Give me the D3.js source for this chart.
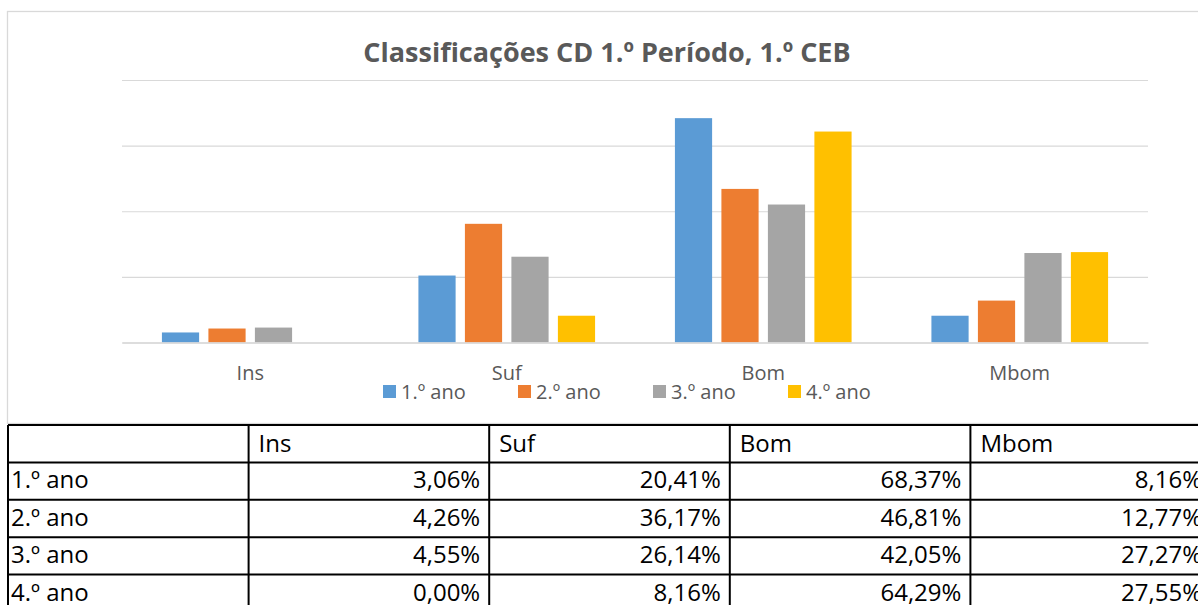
<!DOCTYPE html>
<html>
<head>
<meta charset="utf-8">
<script src="https://cdn.jsdelivr.net/npm/d3@7/dist/d3.min.js"></script>
<style>
    body { margin: 0; background: #fff; }
    text { font-family: "Open Sans", sans-serif; }
</style>
</head>
<body>
<svg id="chart" width="1198" height="605"></svg>
<script>
// values in percent
const categories = ["Ins", "Suf", "Bom", "Mbom"];
const series = ["1.º ano", "2.º ano", "3.º ano", "4.º ano"];
const ano1 = [3.06, 20.41, 68.37, 8.16];
const ano2 = [4.26, 36.17, 46.81, 12.77];
const ano3 = [4.55, 26.14, 42.05, 27.27];
const ano4 = [0.00, 8.16, 64.29, 27.55];
const values = [ano1, ano2, ano3, ano4];
const colors = ["#5b9bd5", "#ed7d31", "#a5a5a5", "#ffc000"];
const title = "Classificações CD 1.º Período, 1.º CEB";

const svg = d3.select("#chart");
const grey = "#595959";

// chart frame
svg.append("rect")
    .attr("x", 7.5).attr("y", 11.5)
    .attr("width", 1200).attr("height", 412)
    .style("fill", "white")
    .style("stroke", "#d9d9d9")
    .style("stroke-width", 1.3);

svg.append("text")
    .attr("x", 607).attr("y", 62)
    .attr("text-anchor", "middle")
    .style("font-size", "27px")
    .style("font-weight", "bold")
    .style("fill", grey)
    .text(title);

let x0 = d3.scaleBand()
    .domain(categories)
    .range([122, 1148])
    .paddingInner(0.275)
    .paddingOuter(0.1375);

let x1 = d3.scaleBand()
    .domain(series)
    .range([0, x0.bandwidth()])
    .paddingInner(0.2)
    .paddingOuter(0.1);

let y = d3.scaleLinear()
    .domain([0, 80])
    .range([342.5, 80]);

// gridlines
let grid = svg.append("g")
    .attr("transform", "translate(122,0)")
    .call(d3.axisLeft(y).ticks(4).tickSize(-1026).tickFormat(""));
grid.select(".domain").remove();
grid.selectAll("line").style("stroke", "#d9d9d9").style("stroke-width", 1.2);

// bars
series.forEach(function (s, i) {
    svg.append("g")
        .selectAll("rect")
        .data(values[i])
        .enter()
        .append("rect")
        .attr("x", (d, j) => x0(categories[j]) + x1(s))
        .attr("y", d => y(d))
        .attr("width", x1.bandwidth())
        .attr("height", d => y(0) - y(d))
        .style("fill", colors[i]);
});

// category axis
let xAxis = svg.append("g")
    .attr("transform", "translate(0," + y(0) + ")")
    .call(d3.axisBottom(x0).tickSize(0).tickPadding(23));
xAxis.select(".domain").style("stroke", "#d9d9d9").style("stroke-width", 1.5);
xAxis.selectAll("text")
    .style("font-size", "20px")
    .style("fill", grey)
    .style("font-family", "'Open Sans', sans-serif");

// legend
let legend = svg.append("g").attr("transform", "translate(383,385)");
series.forEach(function (s, i) {
    legend.append("rect")
        .attr("x", i * 135).attr("y", 0)
        .attr("width", 13).attr("height", 13)
        .style("fill", colors[i]);
    legend.append("text")
        .attr("x", i * 135 + 18).attr("y", 14)
        .style("font-size", "20px")
        .style("fill", grey)
        .text(s);
});

// data table under the chart
let tx = d3.scaleBand().domain(["", ...categories]).range([8, 1211]);
let ty = d3.scaleBand().domain(["head", ...series]).range([425, 612]);
let table = svg.append("g");

table.selectAll("line.v")
    .data(tx.domain().concat(["end"]))
    .enter().append("line")
    .attr("x1", d => d === "end" ? 1211 : tx(d))
    .attr("x2", d => d === "end" ? 1211 : tx(d))
    .attr("y1", 425).attr("y2", 612)
    .style("stroke", "black").style("stroke-width", 2);

table.selectAll("line.h")
    .data(ty.domain())
    .enter().append("line")
    .attr("x1", 8).attr("x2", 1211)
    .attr("y1", d => ty(d)).attr("y2", d => ty(d))
    .style("stroke", "black").style("stroke-width", 2);

categories.forEach(function (c) {
    table.append("text")
        .attr("x", tx(c) + 10).attr("y", ty("head") + 27)
        .style("font-size", "24px")
        .text(c);
});

series.forEach(function (s, i) {
    table.append("text")
        .attr("x", 11).attr("y", ty(s) + 26)
        .style("font-size", "24px")
        .text(s);
    values[i].forEach(function (v, j) {
        table.append("text")
            .attr("x", tx(categories[j]) + tx.bandwidth() - 9)
            .attr("y", ty(s) + 26)
            .attr("text-anchor", "end")
            .style("font-size", "24px")
            .text(v.toFixed(2).replace(".", ",") + "%");
    });
});
</script>
</body>
</html>
